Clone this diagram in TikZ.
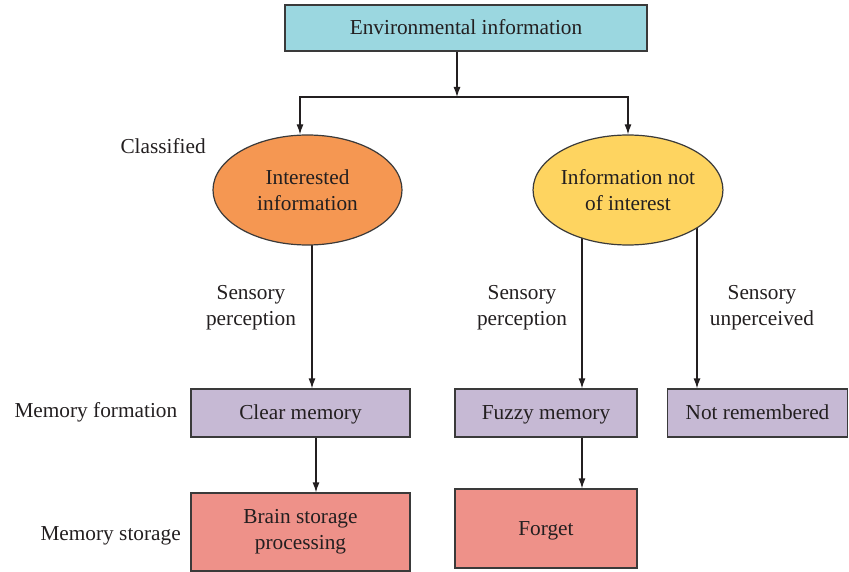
\documentclass[tikz,border=0pt]{standalone}
\usepackage{fontspec}
\setmainfont{Liberation Serif}
\usetikzlibrary{shapes.geometric,arrows.meta,calc}
\pgfdeclarelayer{bg}
\pgfsetlayers{bg,main}
\definecolor{envc}{HTML}{9BD7E0}
\definecolor{orangec}{HTML}{F59752}
\definecolor{yellowc}{HTML}{FED460}
\definecolor{purplec}{HTML}{C6B9D4}
\definecolor{pinkc}{HTML}{EE9189}
\definecolor{inkc}{HTML}{231F20}
\definecolor{linec}{HTML}{3A3A3A}
\tikzset{
  base/.style={draw=linec, line width=1.2pt, inner sep=0pt, align=center,
    text=inkc, font=\fontsize{21.3}{26}\selectfont},
  rectbox/.style={base, rectangle},
  oneline/.style={text height=16.5pt, text depth=3.5pt},
  ovalbox/.style={base, ellipse},
  arr/.style={draw=inkc, line width=1.2pt, -{Latex[length=10pt,width=7pt]}},
  lbl/.style={text=inkc, align=center, font=\fontsize{21.3}{26}\selectfont}
}
\begin{document}
\begin{tikzpicture}[x=1pt,y=-1pt]
\useasboundingbox (0,0) rectangle (849,572);

% nodes
\node[rectbox, oneline, fill=envc, minimum width=362pt, minimum height=46pt] (env) at (466,28) {Environmental information};
\node[ovalbox, fill=orangec, minimum width=189pt, minimum height=110pt] (lE) at (307.5,190) {Interested\\information};
\node[ovalbox, fill=yellowc, minimum width=188pt, minimum height=110pt] (rE) at (628,190) {Information not\\of interest};
\node[rectbox, oneline, fill=purplec, minimum width=219pt, minimum height=48pt] (cm) at (300.5,413) {Clear memory};
\node[rectbox, oneline, fill=purplec, minimum width=182pt, minimum height=48pt] (fz) at (546,413) {Fuzzy memory};
\node[rectbox, oneline, fill=purplec, minimum width=180pt, minimum height=48pt] (nr) at (757.5,413) {Not remembered};
\node[rectbox, fill=pinkc, minimum width=219pt, minimum height=78pt] (bs) at (300.5,532) {Brain storage\\processing};
\node[rectbox, oneline, fill=pinkc, minimum width=182pt, minimum height=79pt] (fg) at (546,528.5) {Forget};

% side labels
\node[lbl, oneline, anchor=west] (cls) at (117,147) {Classified};
\node[lbl, oneline, anchor=west] (mf) at (11,411) {Memory formation};
\node[lbl, oneline, anchor=west] (ms) at (37,534) {Memory storage};
\node[lbl] (sp1) at (251,308) {Sensory\\perception};
\node[lbl] (sp2) at (522,308) {Sensory\\perception};
\node[lbl] (su) at (762,308) {Sensory\\unperceived};

% branching from the top box
\coordinate (split) at ([xshift=-9pt]env.south |- 0,97);
\draw[arr] ([xshift=-9pt]env.south) -- (split);
\draw[arr] (split) -| (lE.north -| 300,0);
\draw[arr] (split) -| (rE.north);

% vertical connectors, drawn under the ellipses
\begin{pgfonlayer}{bg}
\draw[arr] ([xshift=4.5pt]lE.center) -- ([xshift=4.5pt]lE.center |- cm.north);
\draw[arr] ([xshift=-46pt]rE.center) -- ([xshift=-46pt]rE.center |- fz.north);
\draw[arr] ([xshift=69pt]rE.center) -- ([xshift=69pt]rE.center |- nr.north);
\end{pgfonlayer}
\draw[arr] ([xshift=15.5pt]cm.south) -- ([xshift=15.5pt]bs.north);
\draw[arr] ([xshift=36pt]fz.south) -- ([xshift=36pt]fg.north);
\end{tikzpicture}
\end{document}
